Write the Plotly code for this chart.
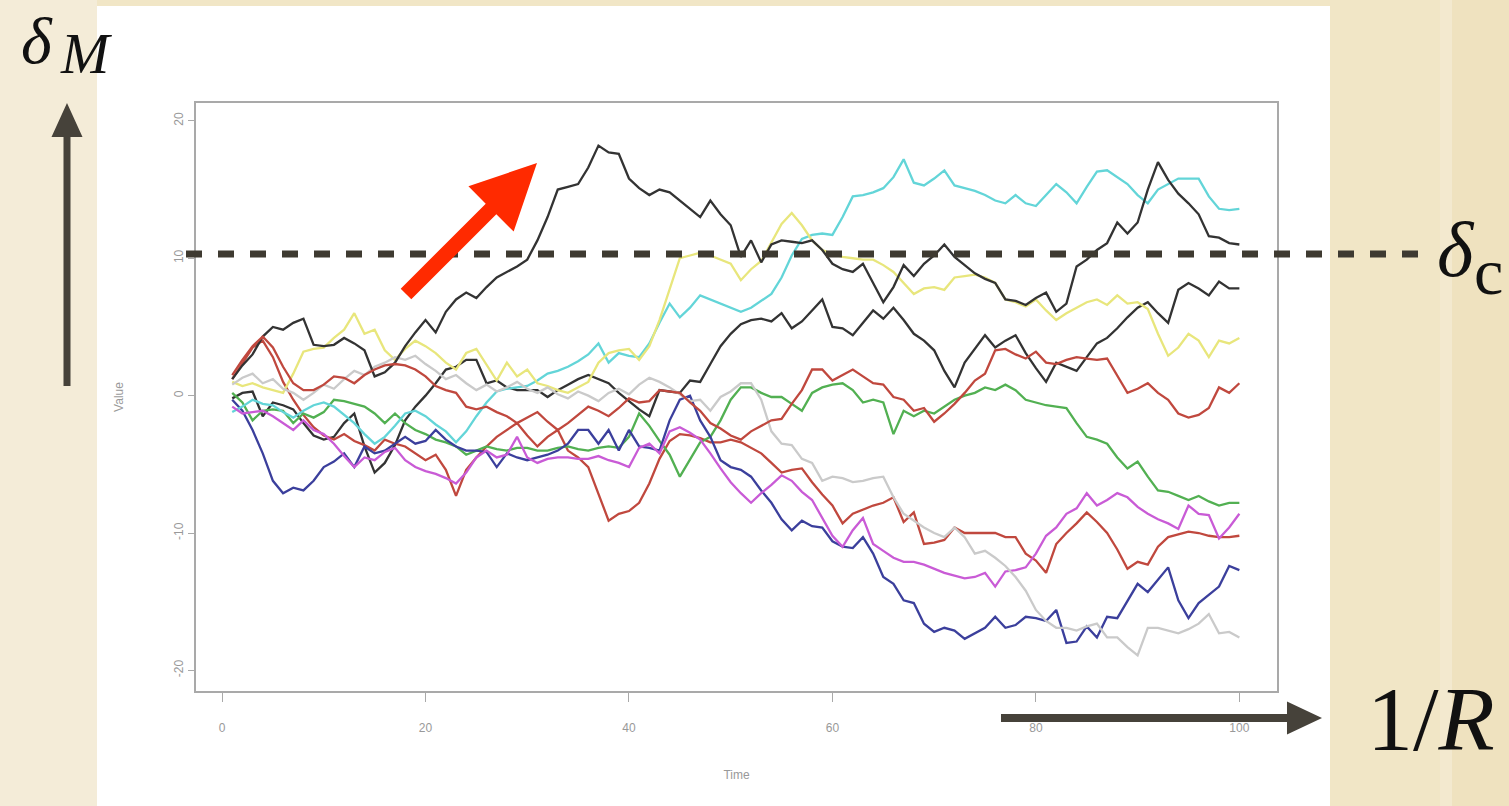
import plotly.graph_objects as go

# ---------------- data: ten random walks over 100 time steps ----------------
time = list(range(1, 101))

walk_black_a = [
    1.2, 2.2, 3.0, 4.3, 5.0, 4.8, 5.3, 5.6, 3.7, 3.6,
    3.7, 4.2, 3.8, 3.3, 1.4, 1.7, 2.4, 3.6, 4.6, 5.5,
    4.6, 6.1, 7.0, 7.5, 7.1, 7.9, 8.6, 9.0, 9.4, 9.9,
    11.3, 13.0, 15.0, 15.2, 15.4, 16.6, 18.2, 17.7, 17.6, 15.8,
    15.1, 14.6, 15.0, 14.8, 14.2, 13.6, 13.0, 14.2, 13.2, 12.4,
    10.1, 11.3, 9.7, 11.0, 11.3, 11.2, 11.1, 11.3, 10.6, 9.6,
    9.2, 9.0, 9.6, 8.2, 6.8, 7.9, 9.5, 8.7, 9.6, 10.2,
    11.0, 10.1, 9.5, 8.9, 8.5, 8.2, 7.0, 6.9, 6.6, 7.1,
    7.5, 6.1, 6.7, 9.4, 9.9, 10.6, 11.1, 12.6, 11.8, 12.6,
    15.0, 17.0, 15.7, 14.7, 14.0, 13.2, 11.6, 11.5, 11.1, 11.0]

walk_black_b = [
    -0.2, 0.2, 0.3, -1.5, -0.5, -0.7, -1.0, -2.0, -2.9, -3.2,
    -3.0, -2.0, -1.3, -3.7, -5.6, -4.9, -3.6, -1.8, -0.8, 0.0,
    0.9, 1.9, 2.1, 2.6, 2.6, 0.9, 1.1, 0.6, 0.4, 0.4,
    0.4, -0.1, 0.4, 0.8, 1.2, 1.5, 1.2, 0.9, 0.2, -0.4,
    -1.0, -1.5, 0.4, 0.3, 0.2, 1.1, 1.0, 2.3, 3.6, 4.5,
    5.2, 5.5, 5.6, 5.4, 6.0, 4.9, 5.4, 6.2, 7.0, 5.0,
    4.9, 4.4, 5.3, 6.2, 5.6, 6.4, 5.5, 4.5, 4.0, 3.3,
    1.8, 0.6, 2.4, 3.4, 4.4, 3.5, 4.0, 4.4, 3.1, 2.0,
    1.0, 2.4, 2.1, 1.8, 2.8, 3.8, 4.2, 4.9, 5.7, 6.4,
    6.8, 6.0, 5.3, 7.7, 8.2, 7.8, 7.3, 8.3, 7.8, 7.8]

walk_red_a = [
    1.5, 2.6, 3.6, 4.3, 3.5, 2.1, 0.9, 0.4, 0.4, 0.8,
    1.4, 1.3, 0.9, 1.5, 1.9, 2.2, 2.3, 2.2, 1.9, 1.4,
    0.7, 0.4, 0.2, -0.8, -1.0, -0.8, -1.2, -1.5, -2.0, -1.6,
    -1.2, -1.9, -2.5, -2.0, -1.4, -0.8, -1.1, -1.5, -0.9, -0.2,
    -0.5, -0.4, 0.4, 0.3, 0.2, -0.5, -1.1, -2.0, -2.4, -2.9,
    -3.2, -2.6, -2.2, -1.8, -1.7, -0.6, 0.4, 1.9, 1.9, 1.1,
    1.5, 1.9, 1.4, 0.9, 0.8, -0.1, -0.3, -1.1, -0.9, -1.9,
    -1.3, -0.6, 0.2, 1.1, 1.6, 3.3, 3.4, 3.0, 2.7, 3.2,
    2.4, 2.3, 2.6, 2.8, 2.7, 2.6, 2.7, 1.5, 0.2, 0.5,
    0.9, 0.2, -0.3, -1.3, -1.6, -1.4, -0.9, 0.6, 0.2, 0.9]

walk_red_b = [
    1.2, 2.4, 3.5, 4.0, 2.8, 1.0, -0.3, -1.4, -2.3, -2.9,
    -3.2, -2.8, -3.3, -3.6, -4.0, -3.2, -3.5, -3.7, -4.2, -4.7,
    -4.3, -5.4, -7.3, -5.4, -4.5, -3.7, -3.0, -2.5, -2.0, -2.9,
    -3.7, -3.0, -2.5, -4.0, -4.5, -5.2, -7.1, -9.1, -8.6, -8.4,
    -7.8, -6.4, -4.6, -3.3, -2.8, -2.9, -3.1, -3.4, -3.4, -3.2,
    -3.4, -3.8, -4.2, -4.9, -5.6, -5.4, -5.3, -6.3, -7.2, -8.0,
    -9.3, -8.6, -8.3, -8.0, -7.8, -7.4, -9.2, -8.5, -10.8, -10.7,
    -10.5, -9.6, -10.0, -10.0, -10.0, -10.0, -10.3, -10.3, -11.5, -12.0,
    -12.9, -10.8, -10.0, -9.3, -8.5, -9.2, -10.0, -11.2, -12.6, -12.1,
    -12.3, -11.0, -10.3, -10.1, -9.9, -10.0, -10.2, -10.3, -10.3, -10.2]

walk_green = [
    0.2, -0.5, -1.8, -1.1, -1.0, -1.1, -2.0, -1.3, -1.6, -1.2,
    -0.3, -0.4, -0.6, -0.8, -1.3, -2.0, -1.3, -2.0, -2.5, -2.8,
    -3.2, -3.4, -3.7, -4.3, -4.0, -3.7, -3.9, -4.0, -3.8, -3.8,
    -4.0, -4.0, -3.8, -3.7, -3.9, -4.0, -3.8, -3.7, -3.8, -3.0,
    -1.3, -2.2, -3.3, -4.3, -5.9, -4.7, -3.4, -3.0, -1.8, -0.3,
    0.6, 0.6, 0.2, -0.1, -0.1, -0.6, -1.1, 0.2, 0.6, 0.8,
    0.9, 0.4, -0.5, -0.3, -0.5, -2.8, -1.1, -1.5, -1.1, -1.3,
    -0.8, -0.3, 0.0, 0.2, 0.6, 0.4, 0.8, 0.4, -0.3, -0.5,
    -0.7, -0.8, -0.9, -2.0, -3.0, -3.2, -3.5, -4.5, -5.3, -4.8,
    -5.9, -6.9, -7.0, -7.3, -7.6, -7.3, -7.7, -8.0, -7.8, -7.8]

walk_blue = [
    -0.3, -1.1, -2.5, -4.2, -6.2, -7.1, -6.7, -6.9, -6.2, -5.2,
    -4.8, -4.2, -5.2, -3.7, -4.2, -4.0, -3.5, -3.0, -3.5, -3.3,
    -2.5, -3.2, -3.7, -4.0, -4.0, -4.1, -5.2, -4.2, -4.5, -4.7,
    -4.5, -4.3, -4.0, -3.5, -2.5, -2.5, -3.5, -2.5, -4.0, -2.5,
    -3.7, -3.8, -4.0, -1.8, -0.3, 0.0, -1.8, -3.0, -4.7, -5.2,
    -5.4, -5.9, -6.9, -7.8, -9.0, -9.8, -9.1, -9.5, -9.6, -10.6,
    -11.0, -11.1, -10.3, -11.5, -13.2, -13.7, -14.9, -15.1, -16.6, -17.2,
    -16.9, -17.1, -17.7, -17.3, -16.9, -16.1, -16.9, -16.7, -16.1, -16.2,
    -16.4, -15.6, -18.0, -17.9, -16.8, -17.6, -16.1, -16.2, -15.0, -13.7,
    -14.3, -13.4, -12.5, -14.9, -16.2, -15.1, -14.5, -13.9, -12.4, -12.7]

walk_cyan = [
    -1.2, -0.8, -0.3, -0.6, -0.7, -1.2, -1.6, -1.1, -0.7, -0.5,
    -0.8, -1.4, -2.0, -2.8, -3.5, -3.0, -2.2, -1.3, -1.1, -1.5,
    -2.1, -2.6, -3.4, -2.6, -1.5, -0.5, 0.3, 0.5, 0.6, 0.7,
    1.1, 1.6, 1.8, 2.1, 2.5, 3.0, 3.8, 2.4, 3.1, 2.9,
    2.8, 3.8, 5.3, 6.7, 5.7, 6.4, 7.3, 7.0, 6.7, 6.4,
    6.1, 6.4, 6.9, 7.4, 8.6, 10.2, 11.4, 11.7, 11.8, 11.7,
    13.0, 14.5, 14.6, 14.8, 15.1, 15.9, 17.2, 15.5, 15.3, 15.8,
    16.4, 15.3, 15.1, 14.9, 14.6, 14.2, 14.0, 14.6, 14.0, 13.8,
    14.6, 15.4, 14.8, 14.0, 15.2, 16.3, 16.4, 15.9, 15.4, 14.6,
    14.0, 15.0, 15.4, 15.8, 15.8, 15.8, 14.5, 13.6, 13.5, 13.6]

walk_magenta = [
    -0.8, -1.3, -1.2, -1.1, -1.5, -2.0, -2.5, -1.8, -2.5, -2.8,
    -3.5, -4.4, -5.2, -4.5, -4.7, -4.1, -3.8, -4.7, -5.2, -5.5,
    -5.7, -6.0, -6.4, -5.6, -4.5, -4.0, -4.5, -4.3, -3.0, -4.5,
    -4.9, -4.6, -4.5, -4.5, -4.6, -4.6, -4.4, -4.7, -4.9, -5.2,
    -3.8, -3.5, -4.2, -2.6, -2.3, -2.7, -3.2, -4.2, -5.3, -6.3,
    -7.1, -7.8, -7.1, -6.5, -5.8, -6.2, -7.0, -7.6, -8.9, -10.2,
    -11.0, -9.8, -8.9, -10.8, -11.3, -11.8, -12.1, -12.1, -12.3, -12.6,
    -12.9, -13.1, -13.3, -13.2, -12.9, -13.9, -12.8, -12.7, -12.5, -11.5,
    -10.2, -9.6, -8.6, -8.2, -7.1, -8.0, -7.6, -7.1, -7.4, -8.1,
    -8.6, -9.0, -9.3, -9.7, -8.0, -8.6, -8.7, -10.4, -9.6, -8.6]

walk_yellow = [
    1.0, 0.7, 0.9, 0.6, 0.4, 0.2, 1.6, 3.2, 3.4, 3.5,
    4.2, 4.8, 6.0, 4.5, 4.8, 3.3, 2.6, 3.4, 4.0, 3.6,
    3.1, 2.4, 1.9, 3.1, 3.4, 2.2, 1.1, 2.4, 1.4, 1.9,
    0.9, 0.7, 0.4, 0.2, 0.6, 1.0, 2.4, 3.1, 3.3, 3.4,
    2.6, 3.6, 5.5, 7.8, 10.0, 10.2, 10.4, 10.2, 9.9, 9.6,
    8.4, 9.2, 9.8, 11.1, 12.5, 13.3, 12.4, 11.3, 10.6, 10.3,
    10.1, 10.0, 9.9, 9.9, 9.5, 9.0, 8.2, 7.4, 7.8, 7.9,
    7.7, 8.6, 8.7, 8.8, 8.6, 8.2, 7.0, 6.8, 6.5, 7.0,
    6.2, 5.5, 6.0, 6.4, 6.8, 7.0, 6.6, 7.3, 6.7, 6.8,
    6.3, 4.5, 2.9, 3.5, 4.5, 4.0, 2.8, 4.0, 3.8, 4.2]

walk_gray = [
    0.8, 1.3, 1.6, 0.9, 1.2, 0.5, 0.2, -0.3, 0.2, 0.8,
    0.5, 1.2, 1.8, 1.5, 2.1, 2.4, 2.8, 2.6, 2.9, 2.3,
    1.8, 1.2, 1.5, 0.9, 0.4, 0.8, 0.3, 0.6, 1.0, 0.5,
    0.2, 0.6, 0.1, -0.2, 0.3, 0.0, -0.4, 0.2, 0.5, 0.1,
    0.8, 1.3, 1.0, 0.6, 0.1, -0.4, -0.3, -1.1, -0.1, 0.3,
    0.9, 0.9, -0.3, -2.6, -3.5, -3.6, -4.6, -4.9, -6.2, -5.9,
    -6.0, -6.3, -6.2, -6.0, -5.9, -7.4, -8.6, -9.1, -9.6, -10.0,
    -10.3, -9.6, -10.3, -11.5, -11.3, -11.8, -12.4, -13.2, -14.2, -15.6,
    -16.4, -16.9, -16.9, -17.1, -16.8, -16.6, -17.6, -17.6, -18.3, -18.9,
    -16.9, -16.9, -17.1, -17.3, -17.0, -16.6, -15.9, -17.3, -17.2, -17.6]

x_ticks = [0, 20, 40, 60, 80, 100]
y_ticks = [-20, -10, 0, 10, 20]
y_tick_text = ["-20", "-10", "0", "10", "20"]
threshold = 10.3  # delta_c level

# ---------------- figure ----------------
W, H = 1509, 806


def px(x):
    return x / W


def py(y):
    return 1 - y / H


series = [
    (walk_black_b, "#333333"),
    (walk_red_b, "#c0483e"),
    (walk_green, "#52b052"),
    (walk_blue, "#3b3f9c"),
    (walk_cyan, "#63d5d8"),
    (walk_magenta, "#c95bd6"),
    (walk_yellow, "#e8e67c"),
    (walk_gray, "#cacaca"),
    (walk_black_a, "#333333"),
    (walk_red_a, "#c0483e"),
]

fig = go.Figure()
for vals, col in series:
    fig.add_trace(go.Scatter(
        x=time, y=vals, mode="lines",
        line=dict(color=col, width=2.3),
        showlegend=False, hoverinfo="skip"))

tick_font = dict(family="Liberation Sans, Arial, sans-serif", size=12, color="#999999")
axis_common = dict(
    showgrid=False, zeroline=False, showline=True, mirror=True,
    linecolor="#a9a9a9", linewidth=1.5,
    ticks="outside", tickwidth=1, tickcolor="#a9a9a9",
    tickfont=tick_font, automargin=False,
)

fig.update_layout(
    width=W, height=H, margin=dict(l=0, r=0, t=0, b=0),
    paper_bgcolor="#f1e6c6", plot_bgcolor="white", showlegend=False,
    xaxis=dict(
        domain=[px(196), px(1277)], range=[-2.56, 103.7],
        tickvals=x_ticks, ticklen=9, ticklabelstandoff=16,
        title=dict(text="Time", font=tick_font, standoff=36),
        **axis_common),
    yaxis=dict(
        domain=[py(691), py(103)], range=[-21.5, 21.3],
        tickvals=y_ticks, ticktext=y_tick_text, tickangle=-90,
        ticklen=6, ticklabelstandoff=0,
        title=dict(text="Value", font=tick_font, standoff=46),
        **axis_common),
)


def arrow_path(x0, y0, x1, y1, shaft_w, head_len, head_w):
    """Closed polygon (pixel input) for a block arrow from (x0,y0) to tip (x1,y1)."""
    dx, dy = x1 - x0, y1 - y0
    length = (dx * dx + dy * dy) ** 0.5
    ux, uy = dx / length, dy / length
    nx, ny = -uy, ux
    bx, by = x1 - ux * head_len, y1 - uy * head_len
    pts = [
        (x0 + nx * shaft_w / 2, y0 + ny * shaft_w / 2),
        (bx + nx * shaft_w / 2, by + ny * shaft_w / 2),
        (bx + nx * head_w / 2, by + ny * head_w / 2),
        (x1, y1),
        (bx - nx * head_w / 2, by - ny * head_w / 2),
        (bx - nx * shaft_w / 2, by - ny * shaft_w / 2),
        (x0 - nx * shaft_w / 2, y0 - ny * shaft_w / 2),
    ]
    return "M " + " L ".join(f"{px(x):.5f},{py(y):.5f}" for x, y in pts) + " Z"


shapes = [
    # textured backdrop bands
    dict(type="rect", xref="paper", yref="paper", x0=0, x1=px(97), y0=0, y1=1,
         fillcolor="#f4ecd8", line_width=0, layer="below"),
    dict(type="rect", xref="paper", yref="paper", x0=px(1452), x1=1, y0=0, y1=1,
         fillcolor="#efe2bf", line_width=0, layer="below"),
    dict(type="rect", xref="paper", yref="paper", x0=px(1440), x1=px(1452), y0=0, y1=1,
         fillcolor="#f3e9cf", line_width=0, layer="below"),
    # white slide panel
    dict(type="rect", xref="paper", yref="paper", x0=px(97), x1=px(1330), y0=0, y1=py(6),
         fillcolor="white", line_width=0, layer="below"),
    # critical threshold
    dict(type="line", xref="paper", yref="y", x0=px(186), x1=px(1418), y0=threshold, y1=threshold,
         line=dict(color="#3e3a31", width=7, dash="16px,16px"), layer="above"),
    # arrows
    dict(type="path", xref="paper", yref="paper",
         path=arrow_path(406, 294, 537, 163, 15, 65, 64),
         fillcolor="#ff2a00", line_width=0, layer="above"),
    dict(type="path", xref="paper", yref="paper",
         path=arrow_path(67, 386, 67, 103, 7, 34, 31),
         fillcolor="#46423a", line_width=0, layer="above"),
    dict(type="path", xref="paper", yref="paper",
         path=arrow_path(1001, 718, 1322, 718, 8, 35, 33),
         fillcolor="#46423a", line_width=0, layer="above"),
]
fig.update_layout(shapes=shapes)

serif = "Liberation Serif, Times New Roman, serif"
annotations = [
    dict(text="<i>δ</i>", x=px(37), y=py(40), font=dict(family=serif, size=66, color="#111")),
    dict(text="<i>M</i>", x=px(86), y=py(53), font=dict(family=serif, size=58, color="#111")),
    dict(text="<i>δ</i>", x=px(1456), y=py(250), font=dict(family=serif, size=78, color="#111")),
    dict(text="c", x=px(1488), y=py(271), font=dict(family=serif, size=66, color="#111")),
    dict(text="1/<i>R</i>", x=px(1431), y=py(719), font=dict(family=serif, size=92, color="#111")),
]
for a in annotations:
    a.update(xref="paper", yref="paper", xanchor="center", yanchor="middle", showarrow=False)
fig.update_layout(annotations=annotations)

fig.write_html("out.html")
